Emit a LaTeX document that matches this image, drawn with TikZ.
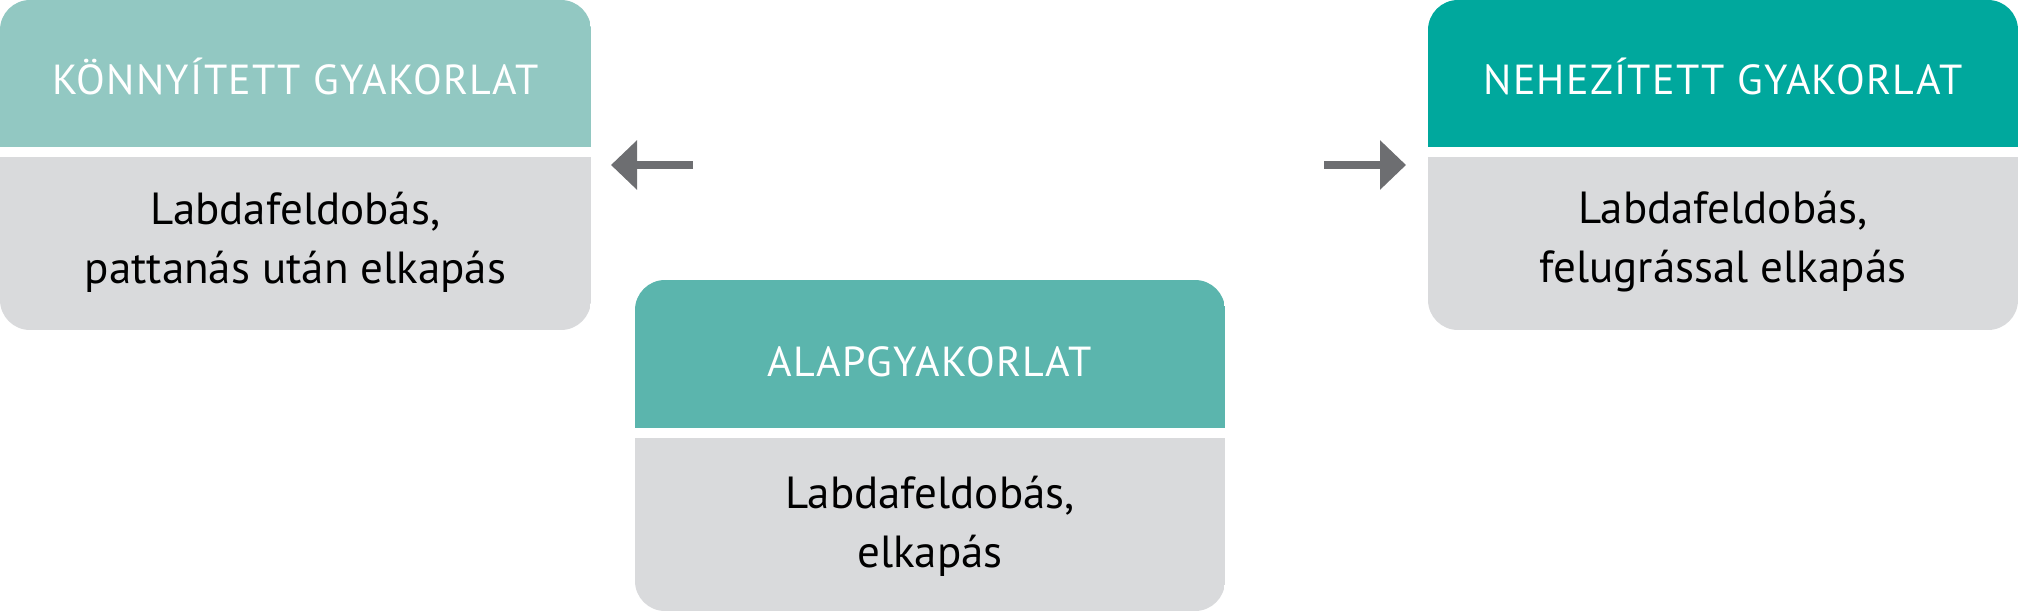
\documentclass[tikz,border=0pt]{standalone}
\usepackage{fontspec}
\setmainfont{PT Sans}
\newfontfamily\hdrfont[LetterSpace=3]{PT Sans}
\usetikzlibrary{arrows.meta}
\definecolor{teallight}{HTML}{92C8C2}
\definecolor{tealmid}{HTML}{5BB5AD}
\definecolor{tealdark}{HTML}{00A89D}
\definecolor{boxgray}{HTML}{D9DADC}
\definecolor{arrowgray}{HTML}{6D6E71}
\tikzset{
  hdrtext/.style={text=white, font=\hdrfont\fontsize{42}{50}\selectfont, anchor=base, inner sep=0pt},
  bodytext/.style={text=black, font=\fontsize{45}{59}\selectfont, align=center, inner sep=0pt},
  connarrow/.style={draw=arrowgray, line width=8pt, -{Triangle[length=26pt,width=48pt]}},
}
\begin{document}
\begin{tikzpicture}[x=1pt,y=-1pt]
\useasboundingbox (0,0) rectangle (2019,611);
% left card
\begin{scope}
  \clip[rounded corners=30pt] (0,0) rectangle (591,330);
  \fill[teallight] (0,0) rectangle (591,147);
  \fill[boxgray] (0,157) rectangle (591,330);
\end{scope}
% middle card
\begin{scope}
  \clip[rounded corners=30pt] (635,280) rectangle (1225,611);
  \fill[tealmid] (635,280) rectangle (1225,428);
  \fill[boxgray] (635,438) rectangle (1225,611);
\end{scope}
% right card
\begin{scope}
  \clip[rounded corners=30pt] (1428,0) rectangle (2018,330);
  \fill[tealdark] (1428,0) rectangle (2018,147);
  \fill[boxgray] (1428,157) rectangle (2018,330);
\end{scope}
% texts
\node[hdrtext] (lefthead) at (295.5,94) {KÖNNYÍTETT GYAKORLAT};
\node[bodytext] (leftbody) at (295.5,242) {Labdafeldobás,\\pattanás után elkapás};
\node[hdrtext] (midhead) at (930,376) {ALAPGYAKORLAT};
\node[bodytext] (midbody) at (930,526) {Labdafeldobás,\\elkapás};
\node[hdrtext] (righthead) at (1723,94) {NEHEZÍTETT GYAKORLAT};
\node[bodytext] (rightbody) at (1723,242) {Labdafeldobás,\\felugrással elkapás};
% arrows
\coordinate (la1) at (693,165);
\coordinate (la2) at (611,165);
\coordinate (ra1) at (1324,165);
\coordinate (ra2) at (1406,165);
\draw[connarrow] (la1) -- (la2);
\draw[connarrow] (ra1) -- (ra2);
\end{tikzpicture}
\end{document}
